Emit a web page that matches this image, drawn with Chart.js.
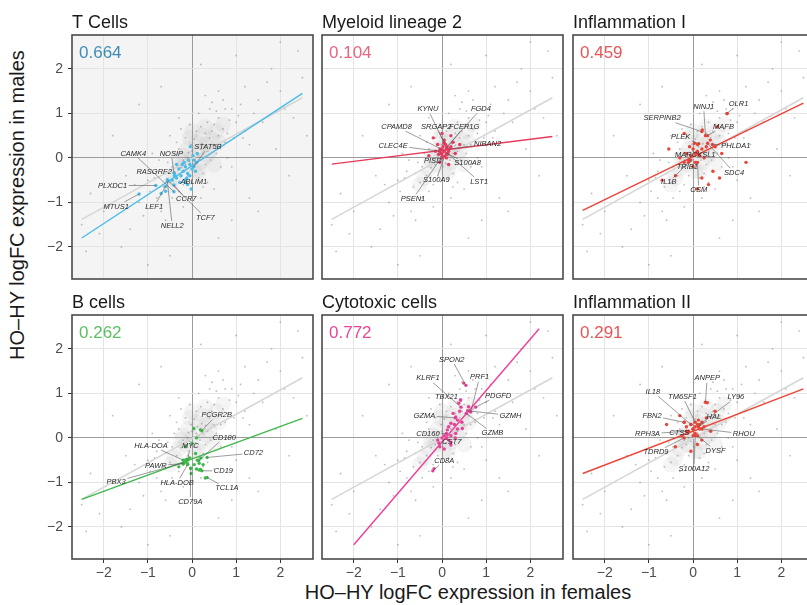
<!DOCTYPE html>
<html><head><meta charset="utf-8">
<script src="https://cdn.jsdelivr.net/npm/chart.js@4.4.1/dist/chart.umd.min.js"></script>
<style>
html,body{margin:0;padding:0;background:#fff;}
#wrap{position:relative;width:807px;height:605px;overflow:hidden;font-family:"Liberation Sans",Arial,sans-serif;}
canvas{position:absolute;}
.axt{position:absolute;font-size:20px;color:#1a1a1a;white-space:nowrap;transform:translate(-50%,-50%);}
#xt{left:468px;top:592px;}
#yt{left:17px;top:205px;transform:translate(-50%,-50%) rotate(-90deg);}
</style></head><body>
<div id="wrap">
 <div class="axt" id="xt">HO–HY logFC expression in females</div>
 <div class="axt" id="yt">HO–HY logFC expression in males</div>
</div>
<script>
// ---------------- data ----------------
const panelTitles = ["T Cells","Myeloid lineage 2","Inflammation I","B cells","Cytotoxic cells","Inflammation II"];
const correlations = ["0.664","0.104","0.459","0.262","0.772","0.291"];
const tickValues = [-2,-1,0,1,2];
const tickLabels = ["−2","−1","0","1","2"];

// all genes (grey background cloud, same in every panel)
const bgX = [0.05,0.1,-0.05,0.15,0.0,-0.1,0.2,0.08,-0.15,0.25,0.12,-0.02,0.3,-0.2,0.18,0.02,-0.08,0.22,0.35,-0.25,
 0.4,0.5,0.3,-0.35,-0.45,0.45,0.6,-0.3,0.25,-0.5,0.55,0.1,-0.15,0.7,0.35,-0.6,0.65,-0.2,0.15,0.5,-0.4,0.8,0.3,-0.1,0.05,0.42,-0.55,0.6,0.2,-0.3,
 1.0,0.9,-0.8,1.2,0.7,-1.0,-0.7,1.1,0.4,-0.5,1.3,-1.2,0.2,0.9,-0.9,1.4,0.6,-0.3,1.0,-1.3,0.3,-0.6,1.5,0.8,-0.8,1.2,-0.2,0.5,-1.1,1.6,
 2.0,-2.0,1.8,2.3,-1.6,2.5,-2.3,1.0,-0.5,2.2,-1.8,0.6,1.5,-2.4,2.4,-1.2,0.2,1.9,-2.1,-1.0,2.1,-1.5,1.3,-0.7,2.6,1.7,-2.5,0.9,-1.4,2.0,
 0.75,-0.65,0.95,0.15,-0.35,0.55,1.05,-0.85,0.35,0.85,-0.45,0.65,-0.05,1.15,-0.75,0.45,0.25,-0.95,0.75,-0.25];
const bgY = [0.02,0.1,-0.08,0.05,0.15,0.0,0.2,-0.12,-0.15,0.1,0.25,0.3,0.28,-0.05,-0.05,-0.2,0.12,0.32,0.15,-0.22,
 0.45,0.3,0.55,-0.4,-0.2,0.6,0.5,0.2,-0.35,-0.55,0.1,0.6,0.45,0.65,0.8,-0.35,0.3,-0.6,-0.45,0.75,0.1,0.55,-0.15,-0.4,0.42,-0.05,-0.1,0.9,0.7,-0.75,
 0.8,1.1,-0.9,0.6,1.3,-0.5,-1.2,1.2,1.1,0.5,0.3,-1.0,-0.9,-0.2,0.1,1.0,1.5,0.9,-0.5,-0.6,1.4,-1.4,1.3,0.0,-0.3,1.6,-1.1,-0.7,-1.3,0.8,
 1.5,-1.2,2.0,0.9,-2.0,1.8,-0.8,2.3,-2.2,-0.4,0.5,-1.8,-1.2,-2.1,2.4,1.2,2.1,0.2,-1.7,-2.4,1.1,-0.4,-0.9,1.6,0.5,1.7,-1.5,-1.4,-1.6,2.6,
 0.35,-0.65,0.45,1.0,0.35,1.05,0.95,-0.45,-0.55,0.85,-0.9,-0.2,0.75,0.45,-0.05,1.25,-0.65,-0.75,1.1,0.65];
// dense core of the cloud
const bgCoreX = [0.0,0.15,-0.15,0.3,-0.3,0.2,-0.1,0.45,-0.4,0.1,0.35,0.05,0.55,-0.2,0.25,0.4,-0.05,0.6,0.15,-0.25,0.7,-0.5,0.3,0.0,0.5];
const bgCoreY = [0.0,0.15,-0.15,0.3,-0.25,-0.1,0.2,0.4,-0.45,0.35,0.05,-0.3,0.6,0.05,0.5,0.15,0.45,0.35,-0.3,-0.05,0.75,-0.6,0.7,0.6,-0.15];
const allFitX = [-2.5,2.5];
const allFitY = [-1.38,1.35];

// T cells
const tcellX = [-0.2,-0.15,-0.1,-0.25,-0.05,0.0,-0.3,-0.35,-0.12,-0.18,0.05,-0.08,-0.4,-0.28,-0.45,-0.05,0.08,-0.22,-0.15,-0.35,0.02,-0.04,-0.6,-0.1,0.1,-0.7,-0.02,0.12];
const tcellY = [-0.3,-0.2,-0.35,-0.4,-0.15,-0.25,-0.25,-0.45,-0.45,-0.1,-0.05,-0.05,-0.35,-0.55,-0.5,-0.4,-0.3,-0.15,-0.55,-0.15,0.05,0.25,-0.75,-0.6,-0.1,-0.8,-0.7,0.1];
const tcellGenes = ["STAT5B","NOSIP","CAMK4","RASGRF2","PLXDC1","MTUS1","LEF1","NELL2","CCR7","TCF7","ABLIM1"];
const tcellGeneX = [0.04,-0.41,-0.41,-0.4,-0.82,-1.2,-0.6,-0.56,-0.41,-0.56,-0.15];
const tcellGeneY = [-0.2,-0.34,-0.76,-0.4,-0.62,-0.81,-0.64,-0.53,-0.61,-0.49,-0.49];
const tcellFitX = [-2.5,2.5], tcellFitY = [-1.8,1.45];

// Myeloid lineage 2
const myeloX = [0.05,0.0,0.1,-0.05,0.12,0.02,-0.08,0.15,0.08,-0.1,0.2,0.0,0.1,-0.15,0.05,-0.2,0.25,0.3,-0.05,0.15,0.4,-0.3,0.0,0.2];
const myeloY = [0.15,0.1,0.2,0.2,0.08,0.25,0.08,0.15,0.3,0.3,0.25,0.0,0.0,0.15,0.4,0.45,0.35,0.1,-0.1,-0.15,0.3,0.05,0.55,0.5];
const myeloGenes = ["KYNU","FGD4","CPAMD8","SRGAP2","FCER1G","CLEC4E","NIBAN2","PISD","S100A8","S100A9","LST1","PSEN1"];
const myeloGeneX = [0.05,0.11,0.0,0.05,0.1,-0.05,0.16,-0.02,0.1,0.06,0.13,0.0];
const myeloGeneY = [0.33,0.25,0.19,0.34,0.22,0.15,0.2,0.1,0.1,0.04,0.1,0.03];
const myeloFitX = [-2.5,2.5], myeloFitY = [-0.14,0.48];

// Inflammation I
const inflAX = [0.05,-0.05,0.1,0.0,-0.1,0.15,0.05,-0.15,0.2,0.1,-0.2,0.25,0.0,-0.08,0.3,-0.3,0.77,0.21,0.39,0.5,0.03,0.45,0.6,-0.4,0.2,0.35,-0.55,0.65,-0.2,0.55,1.2,-0.7,0.1];
const inflAY = [0.1,0.05,0.15,0.2,-0.05,0.05,-0.1,0.1,0.2,0.3,-0.1,0.0,-0.2,0.25,0.25,0.0,0.99,0.63,0.4,0.25,0.33,-0.3,-0.45,-0.4,-0.45,-0.6,0.2,0.1,0.55,0.7,-0.1,-0.5,-0.7];
const inflAGenes = ["NINJ1","OLR1","SERPINB2","MAFB","PLEK","PHLDA1","MARCKSL1","TRIB1","SDC4","IL1B","OSM"];
const inflAGeneX = [0.28,0.77,0.2,0.33,0.13,0.44,0.08,-0.05,0.33,-0.1,0.1];
const inflAGeneY = [0.5,1.0,0.59,0.5,0.32,0.3,0.12,-0.05,0.33,-0.1,-0.1];
const inflAFitX = [-2.5,2.5], inflAFitY = [-1.18,1.23];

// B cells
const bcellX = [-0.14,-0.18,-0.1,-0.2,-0.12,0.12,0.16,-0.03,0.08,0.0,0.04,0.19,0.16,0.2,0.19,0.1,-0.05,0.05,-0.3,0.25,-0.02,0.3,-0.15,0.1];
const bcellY = [-0.54,-0.5,-0.58,-0.58,-0.48,-0.5,-0.72,-0.68,-0.35,-0.12,0.21,0.18,-0.57,-0.45,-0.71,-0.7,-0.45,-0.6,-0.65,-0.6,-0.8,-0.9,-0.2,0.0];
const bcellGenes = ["FCGR2B","CD180","HLA-DOA","MYC","CD72","PAWR","CD19","PBX3","HLA-DOB","TCL1A","CD79A"];
const bcellGeneX = [0.22,0.15,-0.2,-0.1,0.34,-0.2,0.22,-0.18,-0.1,0.34,-0.03];
const bcellGeneY = [0.16,-0.51,-0.5,-0.5,-0.44,-0.58,-0.74,-0.56,-0.6,-0.89,-0.68];
const bcellFitX = [-2.5,2.5], bcellFitY = [-1.38,0.44];

// Cytotoxic cells
const cytoX = [0.49,0.38,0.42,0.64,0.55,0.6,0.31,0.35,0.25,0.2,0.28,0.12,0.15,0.0,0.05,-0.07,0.2,-0.18,0.46,0.31,0.1,0.2,-0.05,0.05,0.4,0.45,0.3,0.15,-0.1,0.35];
const cytoY = [1.23,0.78,0.85,0.59,0.55,0.7,0.47,0.4,0.55,0.33,0.3,0.18,0.25,0.0,0.05,-0.12,-0.16,-0.69,0.21,0.1,0.0,0.05,-0.2,-0.25,0.6,0.35,0.0,-0.05,-0.05,0.2];
const cytoGenes = ["SPON2","KLRF1","PRF1","TBX21","PDGFD","GZMH","GZMA","GZMB","CD160","CST7","CD8A"];
const cytoGeneX = [0.54,0.43,0.65,0.42,0.76,0.58,0.3,0.55,0.1,0.2,-0.21];
const cytoGeneY = [1.18,0.69,0.58,0.85,0.69,0.61,0.45,0.55,0.1,-0.1,-0.74];
const cytoFitX = [-2.0,2.2], cytoFitY = [-2.4,2.45];

// Inflammation II
const inflBX = [0.05,0.0,0.1,-0.05,0.15,0.05,-0.1,0.2,0.12,-0.15,0.25,0.0,0.32,-0.3,-0.2,0.3,-0.4,0.1,-0.05,0.4,0.2,-0.25,0.5,-0.6];
const inflBY = [0.25,0.2,0.3,0.3,0.2,0.1,0.15,0.35,0.4,0.25,0.25,0.05,0.79,0.5,0.35,0.45,-0.2,-0.15,-0.3,0.15,-0.05,0.05,0.6,0.3];
const inflBGenes = ["ANPEP","IL18","TM6SF1","LY96","FBN2","HAL","RPH3A","CTSS","RHOU","TDRD9","DYSF","S100A12"];
const inflBGeneX = [0.28,-0.05,0.05,0.15,-0.2,0.12,-0.15,0.0,0.2,-0.2,0.1,0.05];
const inflBGeneY = [0.8,0.3,0.35,0.3,0.35,0.25,0.15,0.2,0.2,0.0,0.05,0.05];
const inflBFitX = [-2.5,2.5], inflBFitY = [-0.8,1.1];

// ---------------- layout (label placement, in axis units) ----------------
const labelPlacement = [
 [[0.36,0.25],[-0.47,0.1],[-1.33,0.1],[-0.86,-0.31],[-1.8,-0.62],[-1.72,-1.09],[-0.86,-1.09],[-0.45,-1.52],[-0.13,-0.93],[0.3,-1.34],[0.04,-0.53]],
 [[-0.32,1.09],[0.88,1.1],[-1.03,0.7],[-0.13,0.7],[0.5,0.7],[-1.11,0.28],[1.03,0.31],[-0.21,-0.07],[0.58,-0.12],[-0.13,-0.49],[0.84,-0.53],[-0.66,-0.92]],
 [[0.24,1.15],[1.03,1.21],[-0.7,0.89],[0.69,0.7],[-0.28,0.48],[0.97,0.28],[0.05,0.07],[-0.13,-0.2],[0.93,-0.33],[-0.55,-0.55],[0.13,-0.72]],
 [[0.56,0.52],[0.73,0.01],[-0.93,-0.17],[-0.04,-0.17],[1.39,-0.34],[-0.82,-0.62],[0.71,-0.74],[-1.72,-0.98],[-0.34,-1.01],[0.79,-1.13],[-0.04,-1.43]],
 [[0.22,1.76],[-0.32,1.34],[0.85,1.36],[0.1,0.91],[1.27,0.95],[1.55,0.5],[-0.4,0.5],[1.14,0.11],[-0.32,0.1],[0.22,-0.08],[0.05,-0.51]],
 [[0.32,1.34],[-0.91,1.04],[-0.24,0.93],[0.97,0.91],[-0.93,0.5],[0.47,0.48],[-1.03,0.09],[-0.31,0.11],[1.15,0.09],[-0.84,-0.32],[0.51,-0.29],[0.02,-0.7]]
];

const FONT = '"Liberation Sans", Arial, Helvetica, sans-serif';
const pts = (xs, ys) => xs.map((x, i) => ({x, y: ys[i]}));

const panels = [
 {x:tcellX,y:tcellY,g:tcellGenes,gx:tcellGeneX,gy:tcellGeneY,fx:tcellFitX,fy:tcellFitY,color:'#4bbbe8',rc:'#3d8db5',bg:'#f4f4f4'},
 {x:myeloX,y:myeloY,g:myeloGenes,gx:myeloGeneX,gy:myeloGeneY,fx:myeloFitX,fy:myeloFitY,color:'#e63a5c',rc:'#e8657f',bg:'#ffffff'},
 {x:inflAX,y:inflAY,g:inflAGenes,gx:inflAGeneX,gy:inflAGeneY,fx:inflAFitX,fy:inflAFitY,color:'#ea4438',rc:'#e85555',bg:'#ffffff'},
 {x:bcellX,y:bcellY,g:bcellGenes,gx:bcellGeneX,gy:bcellGeneY,fx:bcellFitX,fy:bcellFitY,color:'#3fb84b',rc:'#5cbf62',bg:'#ffffff'},
 {x:cytoX,y:cytoY,g:cytoGenes,gx:cytoGeneX,gy:cytoGeneY,fx:cytoFitX,fy:cytoFitY,color:'#ec3f98',rc:'#e8459a',bg:'#ffffff'},
 {x:inflBX,y:inflBY,g:inflBGenes,gx:inflBGeneX,gy:inflBGeneY,fx:inflBFitX,fy:inflBFitY,color:'#ea4638',rc:'#e85555',bg:'#ffffff'}
];

const boxLeft = [72,322,573], boxTop = [35,315], boxW = 243, boxH = 244;
const padL = 45, padT = 35, padR = 6, padB = 30;

const decoPlugin = {
 id:'deco',
 beforeDraw(chart, args, o){
  const a = chart.chartArea, ctx = chart.ctx;
  ctx.save(); ctx.fillStyle = o.bg; ctx.fillRect(a.left, a.top, a.right-a.left, a.bottom-a.top); ctx.restore();
 },
 afterDatasetsDraw(chart, args, o){
  const a = chart.chartArea, ctx = chart.ctx, xs = chart.scales.x, ys = chart.scales.y;
  ctx.save();
  ctx.beginPath(); ctx.rect(a.left, a.top, a.right-a.left, a.bottom-a.top); ctx.clip();
  ctx.font = 'italic 7.5px ' + FONT;
  ctx.textAlign = 'center'; ctx.textBaseline = 'middle';
  o.genes.forEach((name, i) => {
   const X = xs.getPixelForValue(o.gx[i]), Y = ys.getPixelForValue(o.gy[i]);
   const LX = xs.getPixelForValue(o.lab[i][0]), LY = ys.getPixelForValue(o.lab[i][1]);
   const w = ctx.measureText(name).width + 3, h = 9;
   const dx = X - LX, dy = Y - LY;
   if (Math.abs(dx) > w/2 || Math.abs(dy) > h/2) {
    const t = Math.min(dx !== 0 ? (w/2)/Math.abs(dx) : Infinity, dy !== 0 ? (h/2)/Math.abs(dy) : Infinity);
    const sx = LX + dx*t, sy = LY + dy*t;
    if (Math.hypot(X-sx, Y-sy) > 2) {
     ctx.strokeStyle = '#5a5a5a'; ctx.lineWidth = 0.6;
     ctx.beginPath(); ctx.moveTo(sx, sy); ctx.lineTo(X, Y); ctx.stroke();
    }
   }
  });
  o.genes.forEach((name, i) => {
   const LX = xs.getPixelForValue(o.lab[i][0]), LY = ys.getPixelForValue(o.lab[i][1]);
   ctx.fillStyle = '#2a2a2a';
   ctx.fillText(name, LX, LY);
  });
  ctx.restore();
  // correlation coefficient
  ctx.save();
  ctx.font = '17px ' + FONT; ctx.fillStyle = o.rc; ctx.textAlign = 'left'; ctx.textBaseline = 'middle';
  ctx.fillText(o.r, a.left + 7, a.top + 18);
  // panel frame
  ctx.strokeStyle = '#4a4a4a'; ctx.lineWidth = 1.6;
  ctx.strokeRect(a.left, a.top, a.right-a.left, a.bottom-a.top);
  ctx.restore();
 }
};

const wrap = document.getElementById('wrap');
panels.forEach((p, i) => {
 const col = i % 3, row = Math.floor(i / 3);
 const showY = col === 0, showX = row === 1;
 const cv = document.createElement('canvas');
 cv.width = padL + boxW + padR; cv.height = padT + boxH + padB;
 cv.style.left = (boxLeft[col] - padL) + 'px';
 cv.style.top = (boxTop[row] - padT) + 'px';
 wrap.appendChild(cv);
 const gridColor = c => (c.tick && c.tick.value === 0) ? '#9c9c9c' : '#e4e4e4';
 const setTicks = s => { s.ticks = tickValues.map(v => ({value: v})); };
 const fmt = (v) => tickLabels[tickValues.indexOf(v)];
 new Chart(cv, {
  type: 'scatter',
  data: {datasets: [
   {data: pts(p.gx, p.gy), pointRadius: 1.7, backgroundColor: p.color, borderWidth: 0, order: 1},
   {data: pts(p.x, p.y), pointRadius: 1.7, backgroundColor: p.color, borderWidth: 0, order: 2},
   {data: pts(p.fx, p.fy), showLine: true, borderColor: p.color, borderWidth: 1.4, pointRadius: 0, order: 3},
   {data: pts(allFitX, allFitY), showLine: true, borderColor: '#d6d6d6', borderWidth: 1.5, pointRadius: 0, order: 4},
   {data: pts(bgX, bgY), pointRadius: 0.9, backgroundColor: 'rgba(110,110,110,0.45)', borderWidth: 0, order: 5},
   {data: pts(bgCoreX, bgCoreY), pointRadius: 8, backgroundColor: 'rgba(160,160,160,0.11)', borderWidth: 0, order: 6}
  ]},
  options: {
   responsive: false, animation: false, devicePixelRatio: 1,
   layout: {padding: {left: 0, right: padR, top: 0, bottom: 0}},
   events: [],
   plugins: {
    legend: {display: false}, tooltip: {enabled: false},
    title: {display: true, text: panelTitles[i], align: 'start', fullSize: false, color: '#1a1a1a',
     font: {size: 18, family: FONT, weight: 'normal'}, padding: {top: 12.2, bottom: 1.2}},
    deco: {bg: p.bg, r: correlations[i], rc: p.rc, genes: p.g, gx: p.gx, gy: p.gy, lab: labelPlacement[i]}
   },
   scales: {
    x: {type: 'linear', min: -2.72, max: 2.74, afterBuildTicks: setTicks,
     afterFit: s => { s.height = padB; },
     border: {display: false},
     grid: {color: gridColor, lineWidth: 1, drawTicks: showX, tickLength: 4, tickColor: '#333', tickWidth: 1},
     ticks: {display: showX, callback: fmt, color: '#4d4d4d', padding: 2, font: {size: 14, family: FONT}, maxRotation: 0, autoSkip: false}},
    y: {type: 'linear', min: -2.72, max: 2.76, afterBuildTicks: setTicks,
     afterFit: s => { s.width = padL; },
     border: {display: false},
     grid: {color: gridColor, lineWidth: 1, drawTicks: showY, tickLength: 4, tickColor: '#333', tickWidth: 1},
     ticks: {display: showY, callback: fmt, color: '#4d4d4d', padding: 5, font: {size: 14, family: FONT}, autoSkip: false}}
   }
  },
  plugins: [decoPlugin]
 });
});
</script>
</body></html>
